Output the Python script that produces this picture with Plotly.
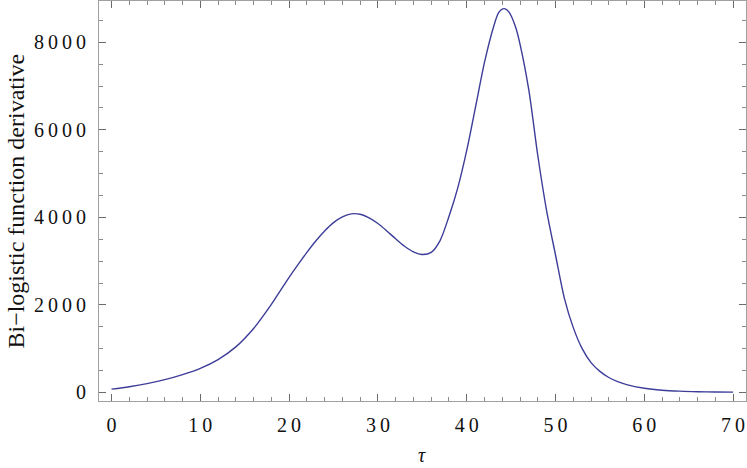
import plotly.graph_objects as go

# tau values and curve values
tau = [0, 2, 4, 6, 8, 10, 12, 14, 16, 18, 19, 20, 21, 22, 23, 24, 25, 26, 27, 28, 29, 30,
       31, 32, 33, 34, 35, 36, 37, 38, 39, 40, 41, 42, 43, 43.6, 44.2, 44.8, 45.5, 46, 47,
       48, 49, 50, 51, 52, 53, 54, 55, 56, 57, 58, 60, 62, 64, 66, 68, 70]
deriv = [75, 130, 200, 290, 405, 550, 750, 1040, 1460, 2010, 2320, 2630, 2920, 3200, 3460,
         3690, 3880, 4010, 4080, 4070, 3990, 3860, 3690, 3510, 3340, 3210, 3150, 3200, 3470,
         4020, 4680, 5530, 6530, 7540, 8340, 8680, 8770, 8680, 8350, 7960, 6900, 5420, 4150,
         3140, 2150, 1480, 1000, 680, 480, 340, 245, 178, 95, 50, 28, 16, 10, 6]

x_tick_vals = [0, 10, 20, 30, 40, 50, 60, 70]
x_tick_text = ["0", "1\u20090", "2\u20090", "3\u20090", "4\u20090", "5\u20090", "6\u20090", "7\u20090"]
y_tick_vals = [0, 2000, 4000, 6000, 8000]
y_tick_text = ["0", "2\u20090\u20090\u20090", "4\u20090\u20090\u20090", "6\u20090\u20090\u20090", "8\u20090\u20090\u20090"]

y_title = "Bi\u2212logistic function derivative"
x_title = "τ"

fig = go.Figure()
fig.add_trace(go.Scatter(x=tau, y=deriv, mode="lines",
                         line=dict(color="#3d3d99", width=1.4, shape="spline", smoothing=0.8),
                         showlegend=False, hoverinfo="skip"))

font_family = "Liberation Serif, Times New Roman, serif"
axis_common = dict(
    showgrid=False, zeroline=False, showline=True, linecolor="#a0a0a0", linewidth=1,
    mirror="ticks", ticks="inside", ticklen=7, tickwidth=1, tickcolor="#6a6a6a",
    tickfont=dict(family=font_family, size=20, color="#111"),
)

fig.update_xaxes(range=[-1.41, 71.45], tickvals=x_tick_vals, ticktext=x_tick_text,
                 minor=dict(dtick=2, tick0=0, ticks="inside", ticklen=4, tickcolor="#8a8a8a", tickwidth=1),
                 ticklabelstandoff=6, **axis_common)
fig.update_yaxes(range=[-197, 8945], tickvals=y_tick_vals, ticktext=y_tick_text,
                 minor=dict(dtick=500, tick0=0, ticks="inside", ticklen=4, tickcolor="#8a8a8a", tickwidth=1),
                 ticklabelstandoff=8, **axis_common)

fig.update_layout(
    width=747, height=468,
    margin=dict(l=99, r=1, t=1, b=67),
    paper_bgcolor="white", plot_bgcolor="white",
    annotations=[
        dict(text=y_title, xref="paper", yref="paper", x=-0.129, y=0.5,
             xanchor="center", yanchor="middle", textangle=-90, showarrow=False,
             font=dict(family=font_family, size=24, color="#111")),
        dict(text="<i>" + x_title + "</i>", xref="paper", yref="paper", x=0.4985, y=-0.135,
             xanchor="center", yanchor="middle", showarrow=False,
             font=dict(family=font_family, size=20, color="#111")),
    ],
)

fig.write_html("out.html", config={"displayModeBar": False},
               post_script="document.body.style.margin='0';document.body.style.overflow='hidden';")
